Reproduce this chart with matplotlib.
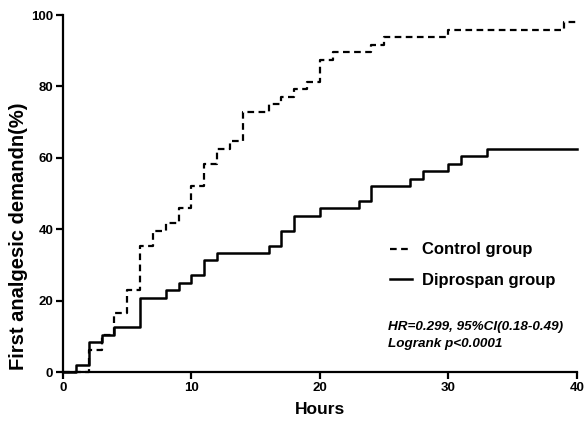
import matplotlib.pyplot as plt

plt.rcParams['font.family'] = ['Liberation Sans', 'DejaVu Sans']

# step times (hours) and cumulative % with first analgesic demand
control_hours = [0, 2, 3, 4, 5, 6, 7, 8, 9, 10, 11, 12, 13, 14, 16, 17, 18, 19, 20, 21, 24, 25, 30, 39, 40]
control_pct = [0, 6.25, 10.42, 16.67, 22.92, 35.42, 39.58, 41.67, 45.83, 52.08, 58.33, 62.5, 64.58,
               72.92, 75.0, 77.08, 79.17, 81.25, 87.5, 89.58, 91.67, 93.75, 95.83, 97.92, 97.92]

dipro_hours = [0, 1, 2, 3, 4, 6, 8, 9, 10, 11, 12, 16, 17, 18, 20, 23, 24, 27, 28, 30, 31, 33, 40]
dipro_pct = [0, 2.08, 8.33, 10.42, 12.5, 20.83, 22.92, 25.0, 27.08, 31.25, 33.33, 35.42, 39.58,
             43.75, 45.83, 47.92, 52.08, 54.17, 56.25, 58.33, 60.42, 62.5, 62.5]

x_ticks = [0, 10, 20, 30, 40]
y_ticks = [0, 20, 40, 60, 80, 100]

fig = plt.figure(figsize=(5.86, 4.24), dpi=100)
ax = fig.add_axes([0.1075, 0.1226, 0.8771, 0.842])

ax.step(control_hours, control_pct, where='post', color='black', lw=1.6,
        dashes=(3, 2), label='Control group', clip_on=False, zorder=2)
ax.step(dipro_hours, dipro_pct, where='post', color='black', lw=1.8,
        label='Diprospan group', clip_on=False, zorder=2)

ax.set_xlim(0, 40)
ax.set_ylim(0, 100)
ax.set_xticks(x_ticks)
ax.set_yticks(y_ticks)
for s in ['top', 'right']:
    ax.spines[s].set_visible(False)
for s in ['left', 'bottom']:
    ax.spines[s].set_linewidth(1.6)
    ax.spines[s].set_zorder(3)
ax.tick_params(width=1.6, length=5, labelsize=9.5, pad=2)
for lab in ax.get_xticklabels() + ax.get_yticklabels():
    lab.set_fontweight('bold')

ax.set_xlabel('Hours', fontsize=12.5, fontweight='bold', labelpad=6)
ax.set_ylabel('First analgesic demandn(%)', fontsize=14.5, fontweight='bold')
ax.yaxis.set_label_coords(-0.068, 0.38)

leg = ax.legend(loc='upper left', bbox_to_anchor=(0.608, 0.405), frameon=False,
                handlelength=1.3, handletextpad=0.6, labelspacing=0.95,
                prop={'weight': 'bold', 'size': 12})

ax.text(0.632, 0.142, 'HR=0.299, 95%CI(0.18-0.49)\nLogrank p<0.0001', transform=ax.transAxes,
        fontsize=9.7, fontweight='bold', style='italic', va='top', linespacing=1.55)

fig.savefig('out.png', dpi=100)
